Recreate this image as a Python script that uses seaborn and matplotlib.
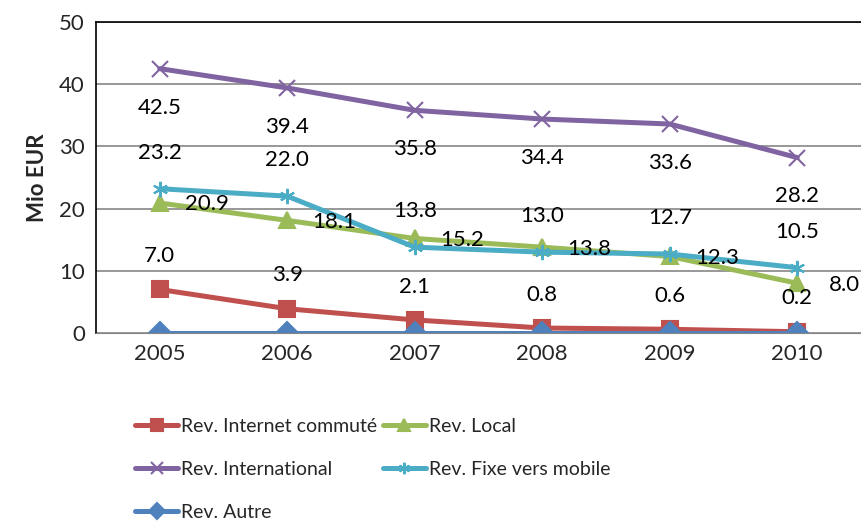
import numpy as np
import matplotlib
matplotlib.use("Agg")
import matplotlib.pyplot as plt
import seaborn as sns

# data
years = [2005, 2006, 2007, 2008, 2009, 2010]
internet = [7.0, 3.9, 2.1, 0.8, 0.6, 0.2]
local = [20.9, 18.1, 15.2, 13.8, 12.3, 8.0]
international = [42.5, 39.4, 35.8, 34.4, 33.6, 28.2]
fixe_mobile = [23.2, 22.0, 13.8, 13.0, 12.7, 10.5]
autre = [0, 0, 0, 0, 0, 0]

names = ["Rev. Internet commuté", "Rev. Local", "Rev. International",
         "Rev. Fixe vers mobile", "Rev. Autre"]

sns.set_style("white")
plt.rcParams['font.family'] = ['Lato', 'DejaVu Sans']
FS = 16

fig = plt.figure(figsize=(8.61, 5.26), dpi=100)
ax = fig.add_axes([96/861, 1-333/526, 1.0-96/861, (333-22)/526])

#        values, color, marker, label offset (points), show labels
series = [
    (internet, "#C0504D", "s", (0, 24), True),
    (local, "#9BBB59", "^", (34, -1), True),
    (international, "#8064A2", "x", (0, -28), True),
    (fixe_mobile, "#4BACC6", (6, 2, 0), (0, 26), True),
    (autre, "#4F81BD", "D", (0, 0), False),
]

for (vals, col, mk, off, show), name in zip(series, names):
    sns.lineplot(x=years, y=vals, ax=ax, color=col, marker=mk, markersize=11,
                 linewidth=3.6, markeredgecolor=col, markeredgewidth=1.5,
                 label=name, legend=False)
    if show:
        for xv, yv in zip(years, vals):
            ax.annotate(f"{yv:.1f}", (xv, yv), xytext=off, textcoords="offset points",
                        ha="center", va="center", fontsize=FS, color="black")

ax.set_xlim(2004.5, 2010.5)
ax.set_ylim(0, 50)
ax.set_xticks(years)
ax.set_xticklabels([str(y) for y in years])
ax.set_yticks([0, 10, 20, 30, 40, 50])
ax.tick_params(axis="both", labelsize=FS, length=0, pad=8)
ax.yaxis.grid(True, color="#868686", linewidth=1.2)
ax.set_axisbelow(True)
for s in ["left", "top"]:
    ax.spines[s].set_color("black")
    ax.spines[s].set_linewidth(1.2)
ax.spines["bottom"].set_color("#868686")
ax.spines["right"].set_visible(False)
ax.set_ylabel("Mio EUR", fontsize=FS, fontweight="bold", labelpad=8)
ax.set_xlabel("")

# matplotlib fills legend columns first, reorder so rows read like the original
handles, labels = ax.get_legend_handles_labels()
order = [0, 2, 4, 1, 3]
fig.legend([handles[i] for i in order], [labels[i] for i in order],
           loc="upper left", bbox_to_anchor=(0.146, 1-408/526),
           ncol=2, frameon=False, fontsize=14, handlelength=2.2, handletextpad=0.15,
           columnspacing=0.3, labelspacing=1.35, borderpad=0, markerscale=0.75)

fig.savefig("out.png", dpi=100)
